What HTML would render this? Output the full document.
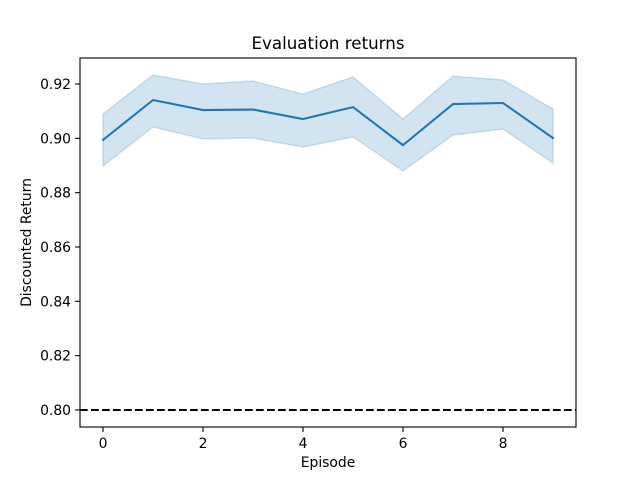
<!DOCTYPE html>
<html><head><meta charset="utf-8">
<style>
html,body{margin:0;padding:0;background:#fff;}
svg{display:block;font-family:"DejaVu Sans","Liberation Sans",sans-serif;}
</style></head>
<body>
<svg id="chart" width="640" height="480" viewBox="0 0 640 480">
<rect x="0" y="0" width="640" height="480" fill="#fff"/>
<g id="plot"></g>
</svg>
<script>
const episodes = [0,1,2,3,4,5,6,7,8,9];
const meanReturn = [0.8994,0.9141,0.9104,0.9106,0.9071,0.9115,0.8975,0.9126,0.9130,0.9001];
const upperReturn = [0.9090,0.9233,0.9200,0.9211,0.9163,0.9226,0.9071,0.9229,0.9215,0.9108];
const lowerReturn = [0.8898,0.9042,0.8998,0.9001,0.8968,0.9005,0.8880,0.9012,0.9034,0.8909];
const xTicks = [0,2,4,6,8];
const yTicks = [0.80,0.82,0.84,0.86,0.88,0.90,0.92];
const baseline = 0.80;

const L=80,R=576,T=58,B=427;
const xMin=-0.46,xMax=9.46,yMin=0.79374,yMax=0.92957;
const sx=v=>L+(v-xMin)/(xMax-xMin)*(R-L);
const sy=v=>B-(v-yMin)/(yMax-yMin)*(B-T);
const NS="http://www.w3.org/2000/svg";
const g=document.getElementById('plot');
function mk(tag,attrs,parent){const e=document.createElementNS(NS,tag);for(const k in attrs)e.setAttribute(k,attrs[k]);(parent||g).appendChild(e);return e;}

let pts=episodes.map((x,i)=>sx(x)+','+sy(upperReturn[i]));
for(let i=episodes.length-1;i>=0;i--)pts.push(sx(episodes[i])+','+sy(lowerReturn[i]));
const band=mk('polygon',{points:pts.join(' '),fill:'#1f77b4','fill-opacity':0.2,stroke:'#1f77b4','stroke-opacity':0.2,'stroke-width':1.4});



const line=mk('polyline',{points:episodes.map((x,i)=>sx(x)+','+sy(meanReturn[i])).join(' '),fill:'none',stroke:'#1f77b4','stroke-width':2.08,'stroke-linejoin':'round','stroke-linecap':'square'});



const bl=mk('line',{x1:L,x2:R,y1:sy(baseline),y2:sy(baseline),stroke:'#000','stroke-width':2.08,'stroke-dasharray':'7.7,3.3'});



const frame=mk('rect',{x:L,y:T,width:R-L,height:B-T,fill:'none',stroke:'#000','stroke-width':1.1});



xTicks.forEach(v=>{
  const t=mk('line',{x1:sx(v),x2:sx(v),y1:B,y2:B+4.9,stroke:'#000','stroke-width':1.1});
  
  
  const tx=mk('text',{x:sx(v),y:B+21,'text-anchor':'middle','font-size':13.9,fill:'#000'});
  tx.textContent=v;
  
  
});
yTicks.forEach(v=>{
  const t=mk('line',{x1:L-4.9,x2:L,y1:sy(v),y2:sy(v),stroke:'#000','stroke-width':1.1});
  
  
  const tx=mk('text',{x:L-9,y:sy(v)+5,'text-anchor':'end','font-size':13.9,fill:'#000'});
  tx.textContent=v.toFixed(2);
  
  
});
const title=mk('text',{x:(L+R)/2,y:49,'text-anchor':'middle','font-size':16.7,fill:'#000'});
title.textContent='Evaluation returns';


const xl=mk('text',{x:(L+R)/2,y:467,'text-anchor':'middle','font-size':13.9,fill:'#000'});
xl.textContent='Episode';


const yl=mk('text',{x:0,y:0,'text-anchor':'middle','font-size':13.9,fill:'#000',transform:'translate(31,'+((T+B)/2)+') rotate(-90)'});
yl.textContent='Discounted Return';


</script>
</body></html>
